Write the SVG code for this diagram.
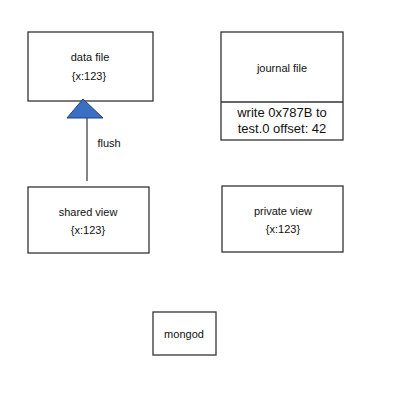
<svg xmlns="http://www.w3.org/2000/svg" width="406" height="400" viewBox="0 0 406 400">
<style>
.box{fill:#fff;stroke:#333;stroke-width:1.3}
text{font-family:"Liberation Sans",Arial,sans-serif;font-size:11px;fill:#111;text-anchor:middle;dominant-baseline:central}
.big{font-size:13px}
</style>
<rect width="406" height="400" fill="#fff"/>
<g id="data-file">
<rect class="box" x="28" y="32" width="125" height="69"/>
<text x="90" y="57">data file</text>
<text x="89" y="76">{x:123}</text>
</g>
<g id="journal-file">
<rect class="box" x="221" y="32" width="122" height="108"/>
<line class="box" x1="221" y1="102" x2="343" y2="102"/>
<text x="282" y="68">journal file</text>
<text class="big" x="282" y="112">write 0x787B to</text>
<text class="big" x="282" y="128">test.0 offset: 42</text>
</g>
<g id="shared-view">
<rect class="box" x="28" y="187" width="121" height="66"/>
<text x="88" y="212">shared view</text>
<text x="88" y="230">{x:123}</text>
</g>
<g id="private-view">
<rect class="box" x="222" y="186" width="121" height="66"/>
<text x="283" y="211">private view</text>
<text x="283" y="229">{x:123}</text>
</g>
<g id="mongod">
<rect class="box" x="153" y="312" width="63" height="43"/>
<text x="184" y="334">mongod</text>
</g>
<g id="connectors">
<line x1="87" y1="181" x2="87" y2="118" stroke="#333" stroke-width="1.2"/>
<polygon points="83,99 103,118 67,118" fill="#3b6fc4" stroke="#1f3f80" stroke-width="1"/>
<text x="109" y="143">flush</text>
</g>
</svg>
